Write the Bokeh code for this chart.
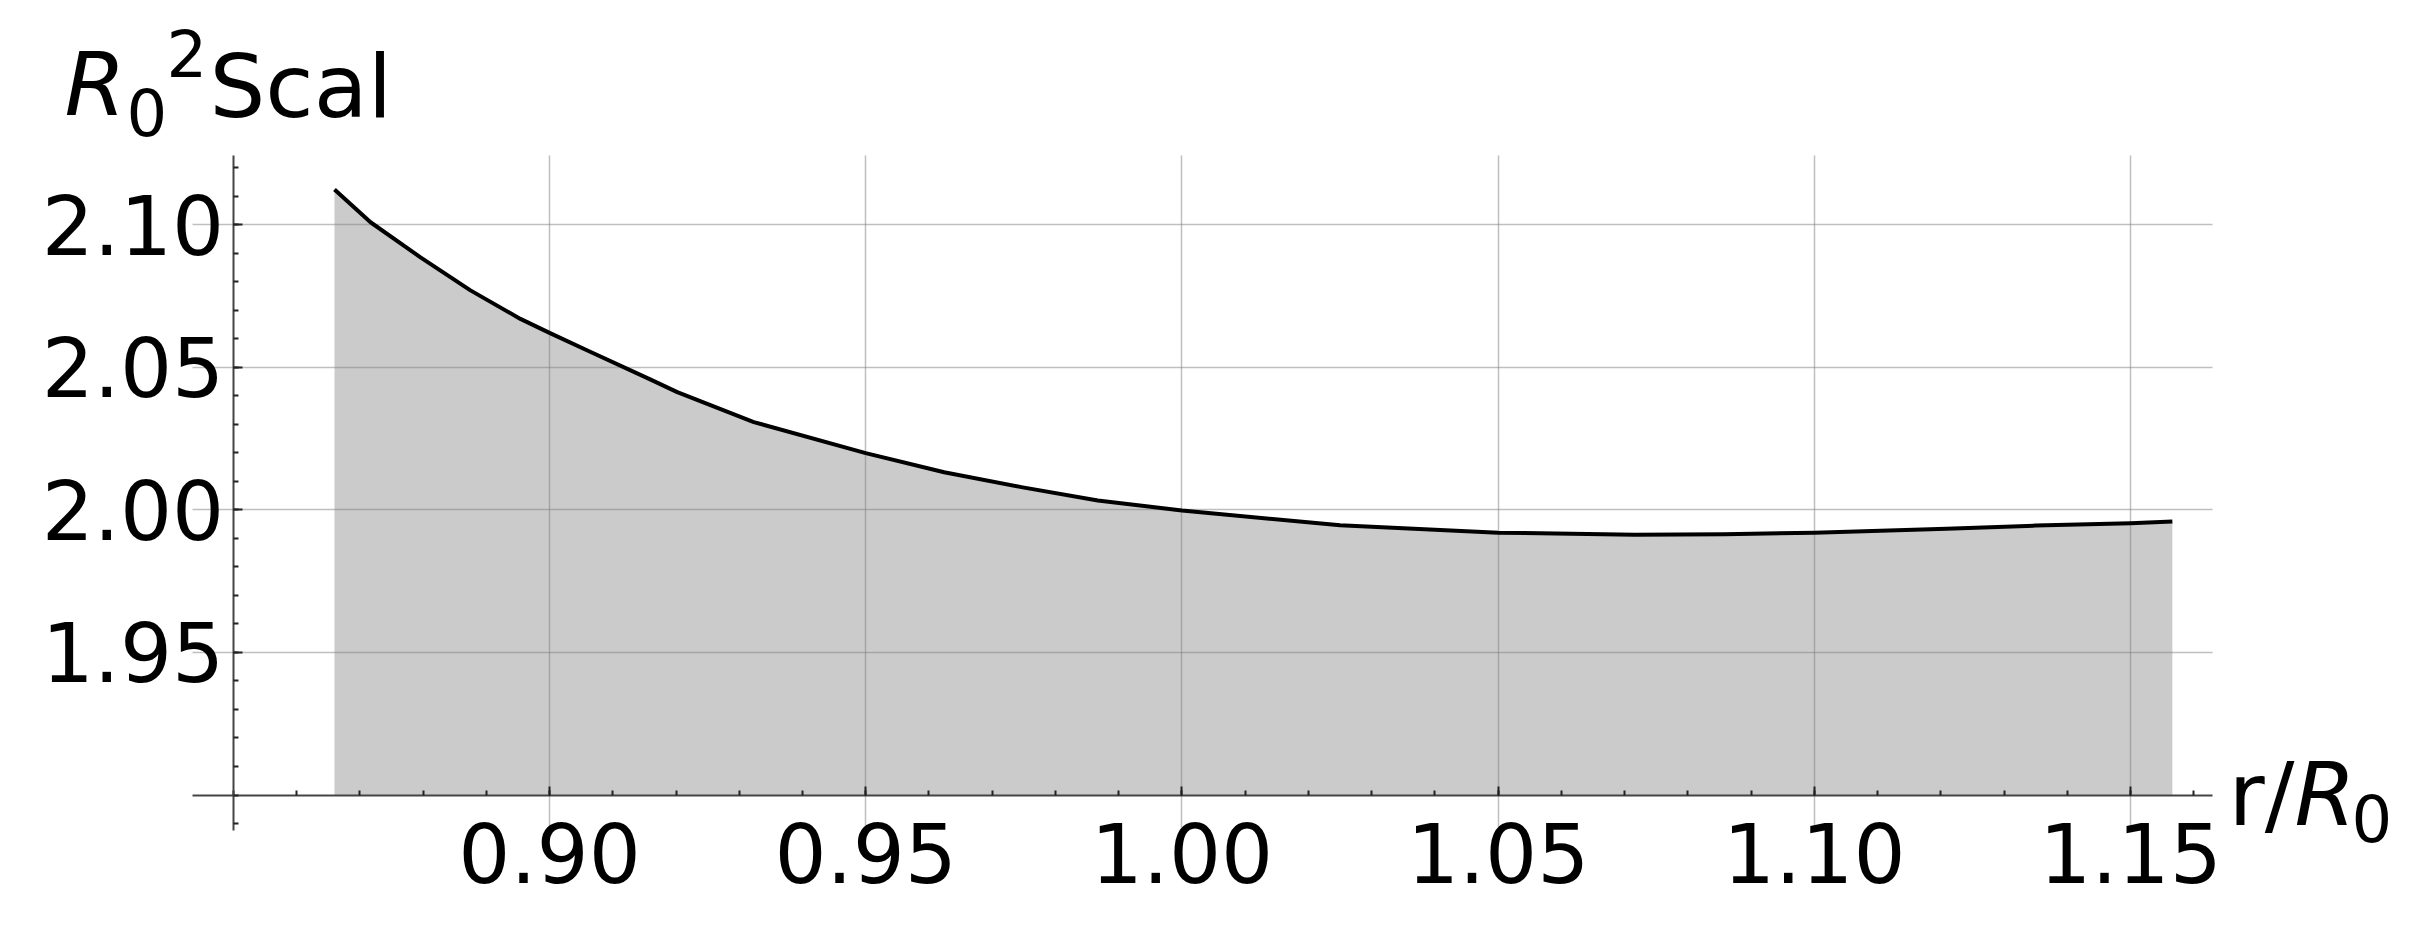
from bokeh.plotting import figure
from bokeh.models import Range1d, FixedTicker, PrintfTickFormatter, Label
from bokeh.embed import file_html
from bokeh.resources import INLINE

# ---- data ----
r_vals = [0.866, 0.8717, 0.8796, 0.8875, 0.8954, 0.900, 0.906, 0.916, 0.9202,
          0.9323, 0.950, 0.9624, 0.9746, 0.9867, 1.000, 1.025, 1.050, 1.0716,
          1.0857, 1.100, 1.1209, 1.135, 1.150, 1.1566]
scal = [2.1124, 2.1009, 2.0886, 2.0770, 2.0670, 2.0621, 2.0559, 2.0457, 2.0413,
        2.0308, 2.0199, 2.0132, 2.0080, 2.0033, 1.9998, 1.9946, 1.9920, 1.9913,
        1.9915, 1.9920, 1.9934, 1.9945, 1.9953, 1.9959]
x_ticks = [0.90, 0.95, 1.00, 1.05, 1.10, 1.15]
y_ticks = [1.95, 2.00, 2.05, 2.10]
x_minor = [round(0.85 + 0.01 * i, 2) for i in range(32)]
y_minor = [round(1.89 + 0.01 * i, 2) for i in range(24)]
axis_cross_x = 0.85
axis_cross_y = 1.90

# ---- plot range (where axes / grid lines extend) ----
X0, X1 = 0.84355, 1.16295
Y0, Y1 = 1.88755, 2.12431
# ---- full canvas range ----
XA, XB = 0.813191, 1.197417
YA, YB = 1.848267, 2.178677
W, H = 2430, 942

p = figure(width=W, height=H, output_backend="svg", toolbar_location=None,
           x_range=Range1d(XA, XB), y_range=Range1d(YA, YB),
           frame_width=W, frame_height=H,
           min_border_left=0, min_border_top=0,
           min_border_right=0, min_border_bottom=0)
p.outline_line_color = None
p.background_fill_color = "white"
p.border_fill_color = "white"

# fill and curve
fill = p.varea(x=r_vals, y1=axis_cross_y, y2=scal, fill_color="#cbcbcb")
fill.level = "image"
p.line(x=r_vals, y=scal, line_color="black", line_width=4, line_join="round")

# grids above the fill
for g in (p.xgrid, p.ygrid):
    g.grid_line_color = "#808080"
    g.grid_line_alpha = 0.5
    g.grid_line_width = 1.5
    g.level = "underlay"
p.xgrid.ticker = FixedTicker(ticks=x_ticks)
p.ygrid.ticker = FixedTicker(ticks=y_ticks)
p.xgrid.cross_bounds = (Y0, Y1)
p.ygrid.cross_bounds = (X0, X1)

# axes crossing at (0.85, 1.90)
xa = p.xaxis[0]
ya = p.yaxis[0]
xa.fixed_location = axis_cross_y
ya.fixed_location = axis_cross_x
xa.bounds = (X0, X1)
ya.bounds = (Y0, Y1)
xa.ticker = FixedTicker(ticks=x_ticks, minor_ticks=x_minor)
ya.ticker = FixedTicker(ticks=y_ticks, minor_ticks=y_minor)
for ax in (xa, ya):
    ax.formatter = PrintfTickFormatter(format="%.2f")
    ax.axis_line_color = "#444444"
    ax.axis_line_width = 2
    ax.major_tick_line_color = "#222222"
    ax.minor_tick_line_color = "#222222"
    ax.major_tick_line_width = 2
    ax.minor_tick_line_width = 2
    ax.major_tick_in = 9
    ax.major_tick_out = 0
    ax.minor_tick_in = 5
    ax.minor_tick_out = 0
    ax.major_label_text_font = "DejaVu Sans"
    ax.major_label_text_font_size = "82px"
    ax.major_label_text_color = "black"
xa.major_label_standoff = 28
ya.major_label_standoff = 9


def dx(ix):
    return XA + ix / W * (XB - XA)


def dy(iy):
    return YB - iy / H * (YB - YA)


def lab(text, ix, iy, size, style="normal"):
    # iy is the desired baseline; compensate the renderer's baseline offset
    iy_adj = iy - 0.36 * size
    p.add_layout(Label(x=dx(ix), y=dy(iy_adj), text=text, text_font="DejaVu Sans",
                       text_font_size=f"{size}px", text_font_style=style,
                       text_color="black", text_align="left",
                       text_baseline="alphabetic"))


# y-axis title  R0^2 Scal
lab("R", 64, 116, 88, "italic")
lab("0", 126, 135, 64)
lab("2", 166, 76, 64)
lab("Scal", 209, 118, 88)

# x-axis title  r/R0
lab("r/", 2228, 826, 88)
lab("R", 2294, 826, 88, "italic")
lab("0", 2351, 841, 64)

open("out.html", "w").write(file_html(p, INLINE))
